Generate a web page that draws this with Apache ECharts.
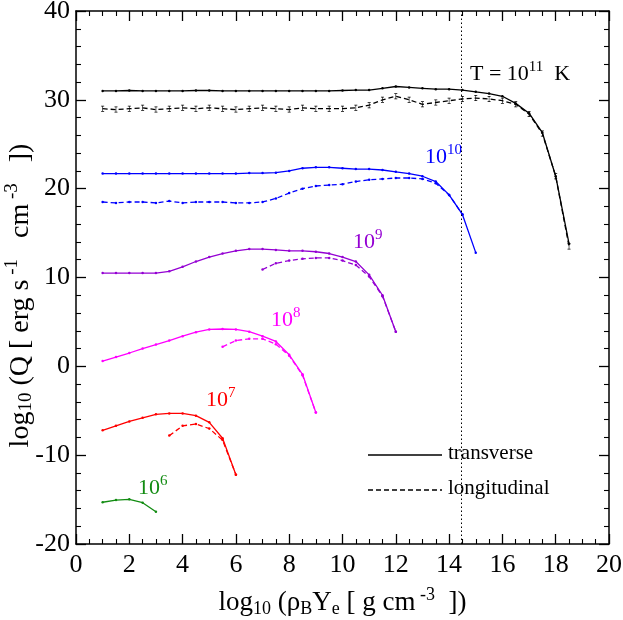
<!DOCTYPE html>
<html><head><meta charset="utf-8">
<script src="https://cdn.jsdelivr.net/npm/echarts@6/dist/echarts.min.js"></script>
<style>html,body{margin:0;padding:0;background:#fff}#c{width:623px;height:620px}</style>
</head><body><div id="c"></div>
<script>
// ---- data ----
const xT11 = [1,1.5,2,2.5,3,3.5,4,4.5,5,5.5,6,6.5,7,7.5,8,8.5,9,9.5,10,10.5,11,11.5,12,12.5,13,13.5,14,14.5,15,15.5,16,16.5,17,17.5,18,18.5];
const yT11trans = [31.0,31.0,31.05,31.0,31.0,31.0,31.0,31.05,31.05,31.0,31.0,31.0,31.0,31.0,31.0,31.0,31.0,31.0,31.05,31.1,31.1,31.3,31.5,31.4,31.3,31.2,31.2,31.1,30.9,30.7,30.4,29.6,28.5,26.3,21.4,13.8];
const yT11long  = [29.0,28.9,29.0,29.1,28.9,29.0,29.1,29.0,29.1,29.0,28.9,29.0,29.1,29.0,28.9,29.1,29.0,29.0,29.0,29.1,29.4,30.0,30.4,30.0,29.5,29.7,29.9,30.1,30.2,30.1,29.9,29.5,28.4,26.2,21.4,13.5];

const xT10trans = [1,1.5,2,2.5,3,3.5,4,4.5,5,5.5,6,6.5,7,7.5,8,8.5,9,9.5,10,10.5,11,11.5,12,12.5,13,13.5,14,14.5,15];
const yT10trans = [21.7,21.7,21.7,21.7,21.7,21.7,21.7,21.7,21.7,21.7,21.7,21.75,21.75,21.8,22.0,22.3,22.4,22.4,22.3,22.2,22.2,22.1,21.9,21.7,21.4,20.8,19.3,17.1,12.8];
const xT10long = [1,1.5,2,2.5,3,3.5,4,4.5,5,5.5,6,6.5,7,7.5,8,8.5,9,9.5,10,10.5,11,11.5,12,12.5,13,13.5,14,14.5];
const yT10long = [18.5,18.4,18.5,18.5,18.4,18.6,18.4,18.5,18.5,18.5,18.4,18.4,18.5,18.9,19.5,20.0,20.3,20.4,20.5,20.8,21.0,21.1,21.2,21.2,21.1,20.6,19.3,17.1];

const xT9trans = [1,1.5,2,2.5,3,3.5,4,4.5,5,5.5,6,6.5,7,7.5,8,8.5,9,9.5,10,10.5,11,11.5,12];
const yT9trans = [10.5,10.5,10.5,10.5,10.5,10.7,11.2,11.8,12.3,12.7,13.0,13.2,13.2,13.1,13.0,13.0,12.9,12.7,12.3,11.8,10.3,8.0,3.9];
const xT9long = [7,7.5,8,8.5,9,9.5,10,10.5,11,11.5,12];
const yT9long = [10.9,11.6,11.9,12.1,12.2,12.2,11.9,11.4,10.1,7.9,3.9];

const xT8trans = [1,1.5,2,2.5,3,3.5,4,4.5,5,5.5,6,6.5,7,7.5,8,8.5,9];
const yT8trans = [0.6,1.05,1.5,2.0,2.45,2.9,3.4,3.85,4.15,4.2,4.15,3.9,3.4,2.8,1.3,-0.9,-5.2];
const xT8long = [5.5,6,6.5,7,7.5,8,8.5,9];
const yT8long = [2.2,2.9,3.1,3.1,2.5,1.2,-1.0,-5.2];

const xT7trans = [1,1.5,2,2.5,3,3.5,4,4.5,5,5.5,6];
const yT7trans = [-7.2,-6.7,-6.2,-5.8,-5.4,-5.3,-5.3,-5.55,-6.3,-8.1,-12.2];
const xT7long = [3.5,4,4.5,5,5.5,6];
const yT7long = [-7.8,-6.7,-6.5,-7.0,-8.3,-12.2];

const xT6trans = [1,1.5,2,2.5,3];
const yT6trans = [-15.3,-15.05,-14.97,-15.35,-16.36];

const nuclearDensity = 14.45;
const xTicks = {min:0, max:20, interval:2};
const yTicks = {min:-20, max:40, interval:10};

// ---- chart ----
const FONT = '"Liberation Serif","DejaVu Serif",serif';
const pairs = (xs, ys) => xs.map((x,i)=>[x, ys[i]]);
const ibeam = 'path://M0,0h5v1h-2v6h2v1h-5v-1h2v-6h-2z';

function line(name, xs, ys, color, dashed, extra) {
  return Object.assign({
    name, type:'line', data: pairs(xs, ys), xAxisIndex:0, yAxisIndex:0,
    smooth:false, symbol:'circle', symbolSize:2.5, showSymbol:true,
    itemStyle:{color}, lineStyle:{color, width:1.3, type: dashed ? [5,3] : 'solid'},
    emphasis:{disabled:true}, silent:true, animation:false, z:3
  }, extra || {});
}

const series = [
  line('T11 transverse', xT11, yT11trans, '#000', false, {
    markLine:{silent:true, symbol:'none', label:{show:false}, animation:false,
      lineStyle:{color:'#000', type:[1.5,2.5], width:1}, data:[{xAxis: nuclearDensity}]}
  }),
  line('T11 longitudinal', xT11, yT11long, '#000', true, {symbol: ibeam, symbolSize:[3,6]}),
  line('T10 transverse', xT10trans, yT10trans, '#0000ff', false),
  line('T10 longitudinal', xT10long, yT10long, '#0000ff', true),
  line('T9 transverse', xT9trans, yT9trans, '#9400d3', false),
  line('T9 longitudinal', xT9long, yT9long, '#9400d3', true),
  line('T8 transverse', xT8trans, yT8trans, '#ff00ff', false),
  line('T8 longitudinal', xT8long, yT8long, '#ff00ff', true),
  line('T7 transverse', xT7trans, yT7trans, '#ff0000', false),
  line('T7 longitudinal', xT7long, yT7long, '#ff0000', true),
  line('T6 transverse', xT6trans, yT6trans, '#128c12', false)
];

const richX = {
  m:{fontSize:27, fontFamily:FONT, color:'#000'},
  s:{fontSize:18, fontFamily:FONT, color:'#000', padding:[12,0,0,0]},
  p:{fontSize:18, fontFamily:FONT, color:'#000', padding:[0,0,16,0]}
};
const richY = {
  m:{fontSize:28, fontFamily:FONT, color:'#000'},
  s:{fontSize:19, fontFamily:FONT, color:'#000', padding:[12,0,0,0]},
  p:{fontSize:19, fontFamily:FONT, color:'#000', padding:[0,0,16,0]},
  e:{width:36}
};
const axLine = {show:true, lineStyle:{color:'#000', width:1.5}};
function xAx(pos, labels) {
  return Object.assign({type:'value', position:pos}, xTicks, {
    axisLine: Object.assign({onZero:false}, axLine),
    axisTick:{show:true, inside:true, length:10, lineStyle:{color:'#000', width:1.3}},
    minorTick:{show:true, splitNumber:4, length:5, lineStyle:{color:'#000', width:1.1}},
    splitLine:{show:false},
    axisLabel:{show:labels, color:'#000', fontFamily:FONT, fontSize:26, margin:8},
    name: labels ? '{m|log}{s|10}{m| (ρ}{s|B}{m|Y}{s|e}{m| [ g cm}{p| -3}{m|  ])}' : '',
    nameLocation:'middle', nameGap:42, nameMoveOverlap:false,
    nameTextStyle:{color:'#000', fontFamily:FONT, rich:richX}
  });
}
function yAx(pos, labels) {
  return Object.assign({type:'value', position:pos}, yTicks, {
    axisLine: Object.assign({onZero:false}, axLine),
    axisTick:{show:true, inside:true, length:10, lineStyle:{color:'#000', width:1.3}},
    minorTick:{show:true, splitNumber:5, length:5, lineStyle:{color:'#000', width:1.1}},
    splitLine:{show:false},
    axisLabel:{show:labels, color:'#000', fontFamily:FONT, fontSize:26, margin:6},
    name: labels ? '{m|log}{s|10}{m| (Q [ erg s}{p| -1}{m|   cm}{p| -3}{m|   ])}{e| }' : '',
    nameLocation:'middle', nameGap:38, nameRotate:90, nameMoveOverlap:false,
    nameTextStyle:{color:'#000', fontFamily:FONT, rich:richY}
  });
}

function ann(x, y, main, sup, color, extra) {
  return {type:'text', x, y, silent:true, z:10, style:{
    text: '{m|' + main + '}{p|' + sup + '}' + (extra ? '{m|' + extra + '}' : ''),
    fill: color, font: '22px ' + FONT,
    rich:{
      m:{fontSize:22, fontFamily:FONT, fill:color, color:color},
      p:{fontSize:15, fontFamily:FONT, fill:color, color:color, padding:[0,0,14,0]}
    }
  }};
}

const chart = echarts.init(document.getElementById('c'), null, {renderer:'canvas'});
chart.setOption({
  backgroundColor:'#fff',
  animation:false,
  grid:{left:76, right:14, top:11, bottom:76, containLabel:false, outerBoundsMode:'none'},
  xAxis:[xAx('bottom', true), xAx('top', false)],
  yAxis:[yAx('left', true), yAx('right', false)],
  series,
  graphic:[
    ann(470, 60, 'T = 10', '11', '#000', '  K'),
    ann(425, 143, '10', '10', '#0000ff'),
    ann(353, 228, '10', '9', '#9400d3'),
    ann(271, 306, '10', '8', '#ff00ff'),
    ann(206, 386, '10', '7', '#ff0000'),
    ann(138, 474, '10', '6', '#128c12'),
    {type:'line', silent:true, shape:{x1:368, y1:455, x2:442, y2:455}, style:{stroke:'#000', lineWidth:1.3}},
    {type:'line', silent:true, shape:{x1:368, y1:490, x2:442, y2:490}, style:{stroke:'#000', lineWidth:1.3, lineDash:[5,3]}},
    {type:'text', silent:true, x:448, y:443, style:{text:'transverse', font:'21px ' + FONT, fill:'#000'}},
    {type:'text', silent:true, x:448, y:478, style:{text:'longitudinal', font:'21px ' + FONT, fill:'#000'}}
  ]
});
</script>
</body></html>
